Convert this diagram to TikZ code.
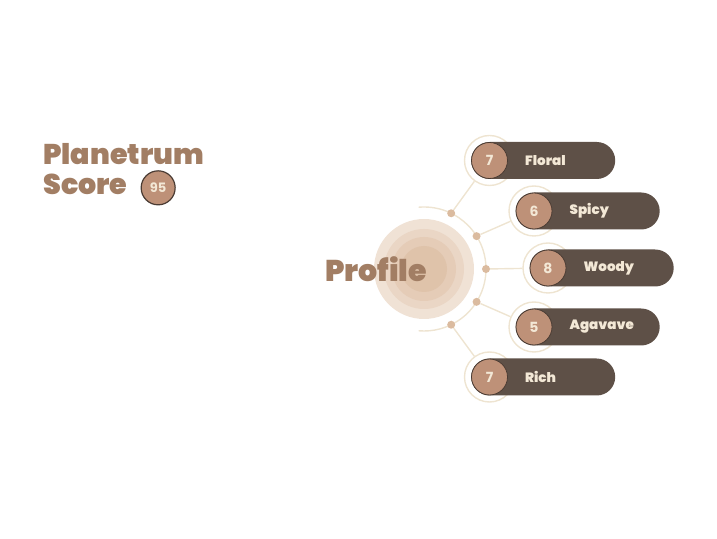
\documentclass[tikz,border=0pt]{standalone}
\usepackage{fontspec}
\setmainfont{Poppins}
\newfontfamily\headfont{Poppins Black}
\usetikzlibrary{positioning}
\definecolor{bark}{HTML}{5E5047}
\definecolor{barkline}{HTML}{4A3B33}
\definecolor{clay}{HTML}{BE9178}
\definecolor{cream}{HTML}{F3E8D6}
\definecolor{halocol}{HTML}{EEE4D1}
\definecolor{knotcol}{HTML}{DBBB9F}
\definecolor{headcol}{HTML}{A27E64}
\definecolor{ringA}{HTML}{F0E2D5}
\definecolor{ringB}{HTML}{EAD6C5}
\definecolor{ringC}{HTML}{E5CCB7}
\definecolor{ringD}{HTML}{DFC3AA}
\tikzset{
    pill/.style = {fill=bark, rounded corners=18.5pt, minimum width=144pt,
        minimum height=37pt, inner sep=0pt},
    numdisc/.style = {circle, fill=clay, draw=barkline, line width=.8pt,
        minimum size=36pt, inner sep=0pt, text=cream,
        font=\bfseries\fontsize{14}{14}\selectfont},
    halo/.style = {circle, draw=halocol, line width=1.4pt, minimum size=50pt},
    itemlabel/.style = {text=cream, inner sep=0pt,
        font=\headfont\fontsize{13.5}{13.5}\selectfont},
    spoke/.style = {draw=halocol, line width=1.4pt},
    knot/.style = {circle, fill=knotcol, minimum size=8pt, inner sep=0pt},
    headline/.style = {text=headcol, inner sep=0pt,
        font=\headfont\fontsize{30}{30}\selectfont}
}

\begin{document}
\begin{tikzpicture}[x=1pt,y=1pt]
    \useasboundingbox (0,0) rectangle (717,538);
    \coordinate (core) at (424,269);
    \foreach \r/\c in {50/ringA, 40/ringB, 32/ringC, 23/ringD}
        \fill[\c] (core) circle (\r);
    \draw[spoke] ([shift={(95:62)}]core) arc (95:-95:62);

    \foreach \x/\a/\cx/\cy/\n/\Label in {%
        1/64/489.5/377.5/7/Floral,
        2/32/534/327/6/Spicy,
        3/0/548/270/8/Woody,
        4/-32/534/211/5/Agavave,
        5/-64/489.5/161/7/Rich%
        } {
        \node[knot] (knot\x) at ([shift={(\a:62)}]core) {};
        \node[halo] (halo\x) at (\cx,\cy) {};
        \draw[spoke] (knot\x) -- (halo\x);
        \node[pill, anchor=west] (pill\x) at (\cx-18.5,\cy) {};
        \node[numdisc] (num\x) at (\cx,\cy) {\n};
        \node[itemlabel, right=17pt of num\x] (label\x) {\Label};
    }

    \node[headline] (profile) at (376,268.5) {Profile};
    \node[headline, font=\headfont\fontsize{28.5}{28.5}\selectfont,
        anchor=base west] (planetrum) at (43,373) {Planetrum};
    \node[headline, font=\headfont\fontsize{28.5}{28.5}\selectfont,
        anchor=base west] (score) at (43,343) {Score};
    \node[numdisc, minimum size=34pt, line width=1.2pt,
        font=\bfseries\fontsize{13}{13}\selectfont,
        right=13pt of score, yshift=-3pt] (scorenum) {95};
\end{tikzpicture}
\end{document}
